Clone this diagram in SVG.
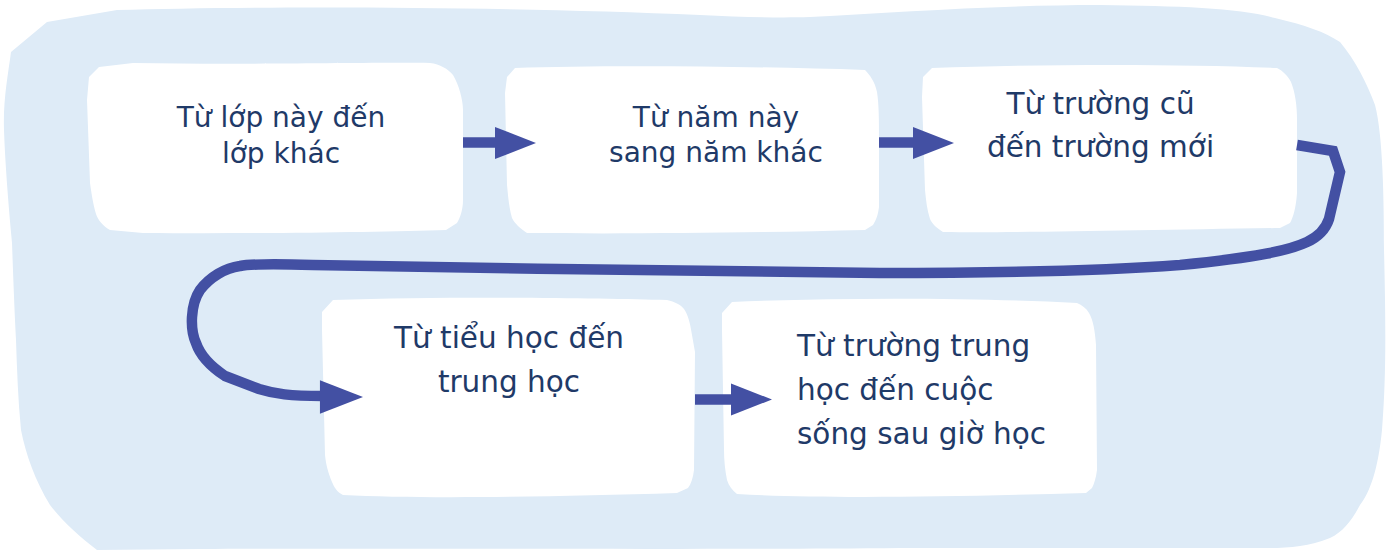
<svg xmlns="http://www.w3.org/2000/svg" width="1394" height="551" viewBox="0 0 1394 551">
<defs>
<style>
.bg{fill:#DEEBF7;}
.box{fill:#FFFFFF;}
.t{font-family:"DejaVu Sans","Verdana","Liberation Sans",sans-serif;fill:#1F3A68;}
.c28{font-size:28px;text-anchor:middle;}
.c29{font-size:29.5px;text-anchor:middle;}
.l29{font-size:29.5px;text-anchor:start;}
.line{fill:none;stroke:#4350A3;stroke-width:10.5;}
.head{fill:#4350A3;}
</style>
<polygon id="ah" points="-41,-16 0,0 -41,16"/>
</defs>
<path class="bg" d="M11,52 L47,22 L117,10 C250,6 500,6 700,15 C740,17 780,18 810,17 C900,12 1000,5 1100,5 C1180,6 1240,8 1275,18 C1305,25 1325,32 1340,42 C1355,60 1367,83 1375,105 C1383,135 1384,200 1384,250 C1386,330 1386,380 1382,430 C1378,470 1370,492 1360,505 C1352,520 1343,532 1330,538 C1310,546 1290,548 1270,548 L900,548 C700,550 400,548 200,549 L97,550 C80,537 63,522 50,505 C35,480 26,455 21,430 C18,400 17,370 16,340 C14,300 13,270 12,243 C8,200 5,160 4,130 C3,100 8,75 11,52 Z"/>
<g id="node1">
<path class="box" d="M89,77 L99,67 L133,63 C250,65 380,62 430,63 C440,64 448,69 453,75 C459,85 463,100 463,110 L463,200 C463,210 460,218 457,223 L446,230 C380,232 250,234 143,233 L110,230 C103,226 98,220 96,214 C93,205 91,190 90,183 L87,100 Z"/>
<text class="t c28"><tspan x="281" y="127">Từ lớp này đến</tspan><tspan x="281" y="163">lớp khác</tspan></text>
</g>
<g id="node2">
<path class="box" d="M507,77 L515,68 C600,65 750,66 865,70 C870,75 875,82 877,92 C879,105 879,120 879,140 L879,207 C878,215 876,220 873,225 L865,230 C750,233 620,234 527,233 C520,228 515,224 512,218 C509,208 508,195 507,185 L505,93 Z"/>
<text class="t c28"><tspan x="716" y="127">Từ năm này</tspan><tspan x="716" y="162">sang năm khác</tspan></text>
</g>
<g id="node3">
<path class="box" d="M923,77 L932,68 C1050,64 1180,64 1277,68 C1283,71 1288,76 1291,82 C1295,92 1297,105 1297,120 L1297,193 C1296,208 1293,218 1290,223 L1280,228 C1150,230 1020,233 943,232 C937,228 932,224 930,219 C927,210 926,200 925,190 L922,97 Z"/>
<text class="t c29"><tspan x="1100.5" y="114">Từ trường cũ</tspan><tspan x="1100.5" y="157">đến trường mới</tspan></text>
</g>
<g id="node4">
<path class="box" d="M322,312 L333,300 C450,296 600,298 667,300 C675,302 680,304 684,309 C688,315 690,322 692,335 L695,352 L694,470 C693,478 691,484 688,488 L677,493 C550,497 420,499 343,495 C337,492 334,487 332,482 C328,472 326,465 325,455 L322,330 Z"/>
<text class="t c29"><tspan x="509" y="348">Từ tiểu học đến</tspan><tspan x="509" y="392">trung học</tspan></text>
</g>
<g id="node5">
<path class="box" d="M722,313 L732,302 C850,297 980,298 1077,303 C1082,305 1086,308 1089,313 C1093,320 1095,330 1096,345 L1097,470 C1096,478 1094,484 1092,488 L1086,493 C950,497 820,499 737,494 C732,490 729,486 727,480 C725,470 724,460 724,450 L722,330 Z"/>
<text class="t l29"><tspan x="797" y="356">Từ trường trung</tspan><tspan x="797" y="400">học đến cuộc</tspan><tspan x="797" y="444">sống sau giờ học</tspan></text>
</g>
<g id="connectors">
<path class="line" d="M463,142.5 L497,142.5"/>
<use href="#ah" class="head" transform="translate(536,143)"/>
<path class="line" d="M879,142.5 L915,142.5"/>
<use href="#ah" class="head" transform="translate(954,143)"/>
<path class="line" d="M1297,145 L1333,151 L1340,172 L1329,219 C1326,228 1320,236 1307,242 C1290,250 1260,257 1180,265 C1100,271 1000,273 880,273 C700,272 500,268 313,265 C280,264 250,264 240,266 C225,268 210,277 200,290 C190,305 190,330 196,343 C200,355 210,366 225,376 L259,389 C275,394 290,396 322,396"/>
<use href="#ah" class="head" transform="translate(363,397) scale(1.05)"/>
<path class="line" d="M695,399.5 L732,399.5"/>
<use href="#ah" class="head" transform="translate(772,399.5)"/>
</g>
</svg>
